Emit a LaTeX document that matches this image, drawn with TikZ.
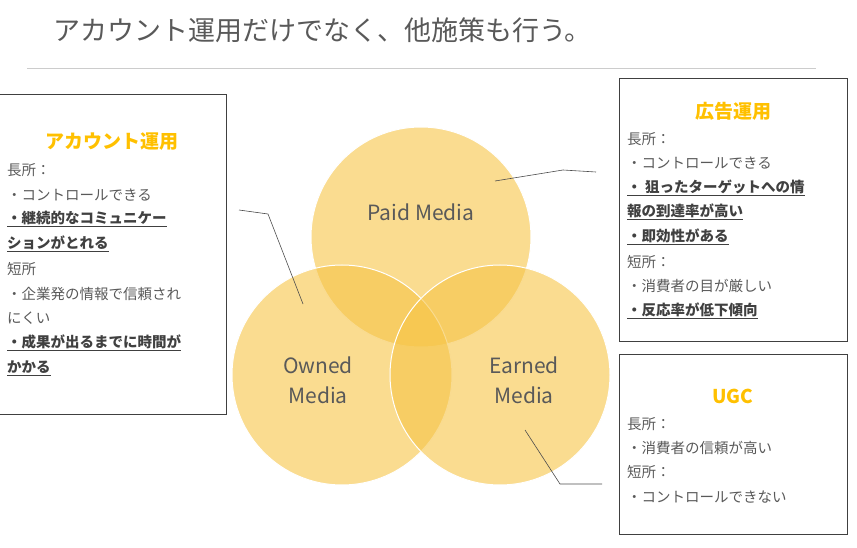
\documentclass[tikz,border=0pt]{standalone}
\usepackage{fontspec}
\setmainfont{Noto Sans CJK JP}
\definecolor{venn}{RGB}{246,196,70}
\definecolor{txtgray}{RGB}{89,89,89}
\definecolor{headorange}{RGB}{255,192,0}
\tikzset{
  circ/.style={circle, fill=venn, fill opacity=0.6, draw=white, line width=1pt, minimum size=220pt, inner sep=0pt},
  circtxt/.style={text=txtgray, font=\fontsize{21}{30}\selectfont, align=center},
  box/.style={draw=black!75, line width=0.8pt},
  head/.style={text=headorange, font=\fontsize{19}{22}\selectfont\bfseries},
  ln/.style={anchor=west, text=txtgray, font=\fontsize{14.5}{16}\selectfont, inner sep=0pt},
  bln/.style={ln, text=black!75, font=\fontsize{14.5}{16}\selectfont\bfseries},
  lead/.style={draw=black!70, line width=0.6pt}
}
\newcommand{\ul}[1]{\underline{#1}}
\begin{document}
\begin{tikzpicture}[x=1pt,y=-1pt]
  \useasboundingbox (0,0) rectangle (857,548);

  % title
  \node[anchor=west, text=txtgray, font=\fontsize{27}{30}\selectfont] (title) at (50,30) {アカウント運用だけでなく、他施策も行う。};
  \draw[black!20, line width=0.8pt] (27,68) -- (816,68);

  % venn
  \node[circ] (paid) at (421,237) {};
  \node[circ] (owned) at (342,375) {};
  \node[circ] (earned) at (500,375) {};
  \node[circtxt] (paidlbl) at (421,212) {Paid Media};
  \node[circtxt] (ownedlbl) at (318,380) {Owned\\Media};
  \node[circtxt] (earnedlbl) at (524,380) {Earned\\Media};

  % boxes
  \draw[box] (-1,94) rectangle (226,414);
  \draw[box] (619,78) rectangle (847,341);
  \draw[box] (619,354) rectangle (847,534);

  % account
  \node[head] (h1) at (112,142) {アカウント運用};
  \node[ln] (a1) at (7,170) {長所：};
  \node[ln] (a2) at (7,195) {・コントロールできる};
  \node[bln] (a3) at (7,219) {\ul{・継続的なコミュニケー}};
  \node[bln] (a4) at (7,244) {\ul{ションがとれる}};
  \node[ln] (a5) at (7,269) {短所};
  \node[ln] (a6) at (7,294) {・企業発の情報で信頼され};
  \node[ln] (a7) at (7,318) {にくい};
  \node[bln] (a8) at (7,343) {\ul{・成果が出るまでに時間が}};
  \node[bln] (a9) at (7,368) {\ul{かかる}};

  % ads
  \node[head] (h2) at (733,111) {広告運用};
  \node[ln] (b1) at (627,139) {長所：};
  \node[ln] (b2) at (627,163) {・コントロールできる};
  \node[bln] (b3) at (627,188) {\ul{・ 狙ったターゲットへの情}};
  \node[bln] (b4) at (627,212) {\ul{報の到達率が高い}};
  \node[bln] (b5) at (627,237) {\ul{・即効性がある}};
  \node[ln] (b6) at (627,262) {短所：};
  \node[ln] (b7) at (627,286) {・消費者の目が厳しい};
  \node[bln] (b8) at (627,311) {\ul{・反応率が低下傾向}};

  % ugc
  \node[head] (h3) at (733,396) {UGC};
  \node[ln] (c1) at (627,424) {長所：};
  \node[ln] (c2) at (627,448) {・消費者の信頼が高い};
  \node[ln] (c3) at (627,472) {短所：};
  \node[ln] (c4) at (627,497) {・コントロールできない};

  % leaders
  \coordinate (l1a) at (239,210); \coordinate (l1b) at (268,214); \coordinate (l1c) at (303,304);
  \coordinate (l2a) at (495,181); \coordinate (l2b) at (563,170); \coordinate (l2c) at (596,172);
  \coordinate (l3a) at (525,430); \coordinate (l3b) at (560,484); \coordinate (l3c) at (602,484);
  \draw[lead] (l1a) -- (l1b) -- (l1c);
  \draw[lead] (l2a) -- (l2b) -- (l2c);
  \draw[lead] (l3a) -- (l3b) -- (l3c);
\end{tikzpicture}
\end{document}
